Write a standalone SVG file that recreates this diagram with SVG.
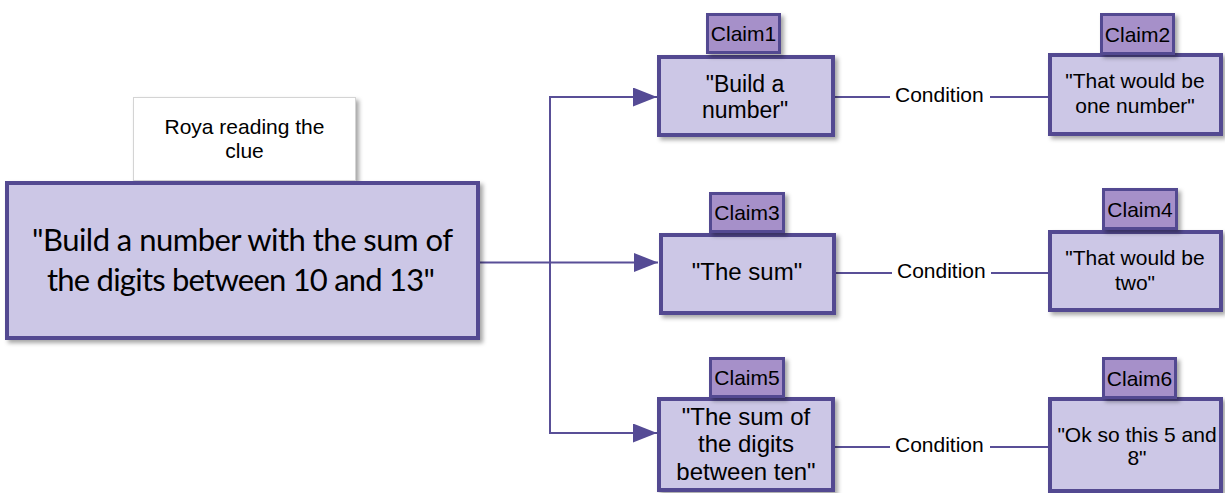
<svg xmlns="http://www.w3.org/2000/svg" width="1225" height="493" viewBox="0 0 1225 493">
  <defs>
    <filter id="shadow" x="-10%" y="-10%" width="130%" height="140%">
      <feDropShadow dx="3" dy="3" stdDeviation="2" flood-color="#000" flood-opacity="0.35"/>
    </filter>
    <marker id="arrow" viewBox="0 0 24 19" refX="24" refY="9.5" markerWidth="24" markerHeight="19" markerUnits="userSpaceOnUse" orient="auto">
      <path d="M0,0 L24,9.5 L0,19 Z" fill="#554b95"/>
    </marker>
  </defs>
  <style>
    .box { fill: #ccc7e6; stroke: #524a91; stroke-width: 4; filter: url(#shadow); }
    .tag { fill: #a690c9; stroke: #524a91; stroke-width: 3; filter: url(#shadow); }
    .note { fill: #ffffff; stroke: #d4d4d4; stroke-width: 1; filter: url(#shadow); }
    .t { font-family: "Liberation Sans", Arial, sans-serif; fill: #000; text-anchor: middle; }
    .big { font-family: Lato, "Open Sans", sans-serif; font-size: 31px; fill: #000; text-anchor: middle; }
    .link { fill: none; stroke: #594f97; stroke-width: 2; }
    .cond { font-family: "Liberation Sans", Arial, sans-serif; font-size: 21px; fill: #000; }
  </style>

  <rect width="1225" height="493" fill="#ffffff"/>

  <!-- connectors -->
  <g id="connectors">
    <path class="link" d="M480,262.5 H658" marker-end="url(#arrow)"/>
    <path class="link" d="M550,433 V97 H657" marker-end="url(#arrow)"/>
    <path class="link" d="M550,262.5 V433 H657" marker-end="url(#arrow)"/>
    <path class="link" d="M835,97 H890 M990,97 H1048"/>
    <text class="cond" x="895" y="102">Condition</text>
    <path class="link" d="M836,273 H892 M991,273 H1048"/>
    <text class="cond" x="897" y="278">Condition</text>
    <path class="link" d="M835,447 H890 M990,447 H1048"/>
    <text class="cond" x="895" y="452">Condition</text>
  </g>

  <!-- source clue -->
  <g id="note">
    <rect class="note" x="133.5" y="97.5" width="222" height="83"/>
    <text class="t" font-size="21" x="244.5" y="134">Roya reading the</text>
    <text class="t" font-size="21" x="244.5" y="158">clue</text>
  </g>
  <g id="clue">
    <rect class="box" x="7" y="183" width="471" height="155"/>
    <text class="big" x="242.5" y="251" textLength="421">"Build a number with the sum of</text>
    <text class="big" x="241" y="291" textLength="388">the digits between 10 and 13"</text>
  </g>

  <!-- claims -->
  <g id="claim1">
    <rect class="box" x="659" y="57" width="174" height="78"/>
    <rect class="tag" x="707.5" y="14.5" width="72" height="38"/>
    <text class="t" font-size="21" x="743.5" y="41">Claim1</text>
    <text class="t" font-size="23" x="745" y="92">"Build a</text>
    <text class="t" font-size="23" x="745" y="118">number"</text>
  </g>
  <g id="claim2">
    <rect class="box" x="1050" y="55" width="171" height="79"/>
    <rect class="tag" x="1101.5" y="14.5" width="72" height="39"/>
    <text class="t" font-size="21" x="1137.5" y="41.5">Claim2</text>
    <text class="t" font-size="21" x="1135" y="88">"That would be</text>
    <text class="t" font-size="21" x="1135" y="113">one number"</text>
  </g>
  <g id="claim3">
    <rect class="box" x="661" y="235" width="173" height="78"/>
    <rect class="tag" x="710.5" y="193.5" width="73" height="38"/>
    <text class="t" font-size="21" x="747" y="220">Claim3</text>
    <text class="t" font-size="24" x="747" y="280">"The sum"</text>
  </g>
  <g id="claim4">
    <rect class="box" x="1050" y="232" width="171" height="78"/>
    <rect class="tag" x="1103.5" y="189.5" width="73" height="39"/>
    <text class="t" font-size="21" x="1140" y="216.5">Claim4</text>
    <text class="t" font-size="21" x="1135" y="265">"That would be</text>
    <text class="t" font-size="21" x="1135" y="290">two"</text>
  </g>
  <g id="claim5">
    <rect class="box" x="659" y="399" width="174" height="91"/>
    <rect class="tag" x="710.5" y="358.5" width="73" height="38"/>
    <text class="t" font-size="21" x="747" y="385">Claim5</text>
    <text class="t" font-size="24" x="746" y="425">"The sum of</text>
    <text class="t" font-size="24" x="746" y="452">the digits</text>
    <text class="t" font-size="24" x="746" y="480">between ten"</text>
  </g>
  <g id="claim6">
    <rect class="box" x="1050" y="399" width="171" height="92"/>
    <rect class="tag" x="1103.5" y="358.5" width="72" height="39"/>
    <text class="t" font-size="21" x="1139.5" y="385.5">Claim6</text>
    <text class="t" font-size="21" x="1137" y="442">"Ok so this 5 and</text>
    <text class="t" font-size="21" x="1137" y="465">8"</text>
  </g>
</svg>
